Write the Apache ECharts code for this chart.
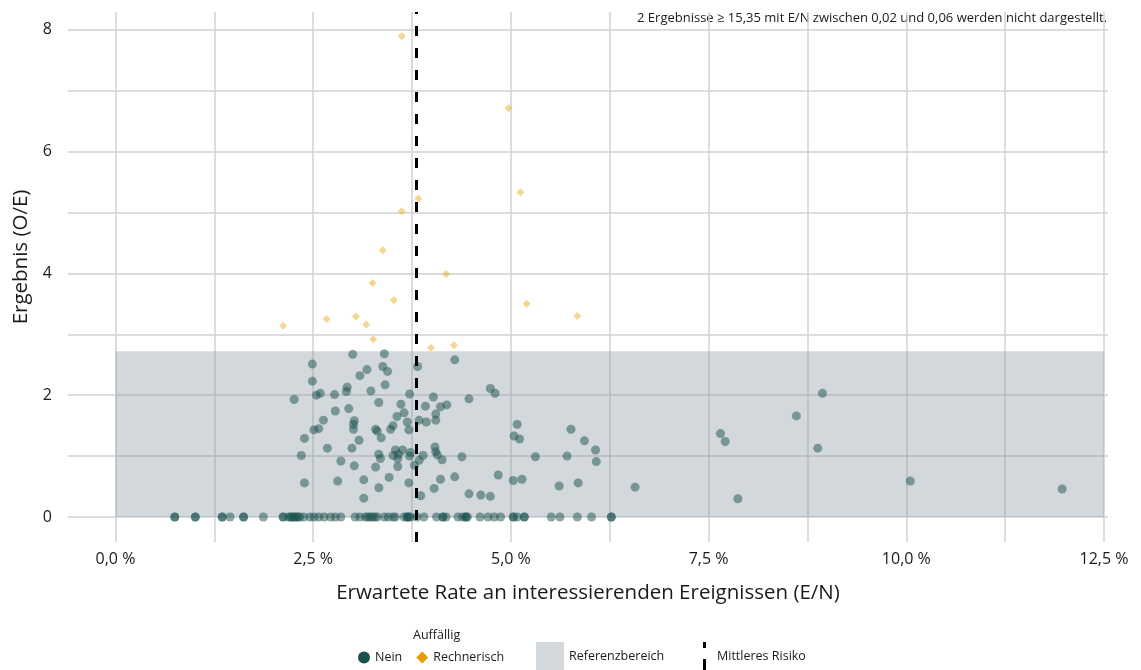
<!DOCTYPE html>
<html>
<head>
<meta charset="utf-8">
<script src="https://cdn.jsdelivr.net/npm/echarts@6/dist/echarts.min.js"></script>
<style>
html,body{margin:0;padding:0;background:#fff;}
#chart{width:1141px;height:670px;}
</style>
</head>
<body>
<div id="chart"></div>
<script>
// ---- data (E/N in percent, O/E) ----
const xTicks = [0, 1.25, 2.5, 3.75, 5, 6.25, 7.5, 8.75, 10, 11.25, 12.5];
const xLabels = [0, 2.5, 5, 7.5, 10, 12.5];
const yTicks = [0, 1, 2, 3, 4, 5, 6, 7, 8];
const yLabels = [0, 2, 4, 6, 8];
const meanRisk = 3.8;
const refX = [0, 12.5];
const refY = [0, 2.72];

const rechnerisch = [
  [3.62,7.89],[4.97,6.71],[5.12,5.33],[3.83,5.23],[3.62,5.02],[3.38,4.38],
  [4.18,3.99],[3.25,3.84],[3.52,3.56],[5.20,3.50],[2.12,3.14],[2.67,3.25],
  [3.04,3.29],[3.17,3.16],[5.84,3.30],[3.26,2.92],[3.99,2.78],[4.28,2.82]
];

const neinPositive = [
  [3.00,2.67],[3.40,2.68],[2.49,2.51],[3.82,2.47],[4.29,2.58],[3.18,2.42],
  [3.38,2.47],[3.44,2.39],[3.09,2.32],[2.49,2.23],[2.93,2.13],[2.92,2.06],
  [3.41,2.17],[3.23,2.07],[2.26,1.93],[2.54,2.00],[2.59,2.03],[2.77,2.01],
  [3.72,2.02],[3.33,1.88],[3.61,1.85],[4.02,1.97],[3.92,1.82],[4.11,1.81],
  [4.19,1.84],[4.47,1.94],[2.78,1.74],[2.95,1.78],[3.65,1.71],[4.05,1.69],
  [3.56,1.65],[2.63,1.59],[3.02,1.58],[3.01,1.52],[3.01,1.44],[3.69,1.56],
  [3.84,1.59],[3.93,1.56],[4.05,1.59],[3.51,1.50],[3.48,1.44],[3.29,1.44],
  [3.31,1.41],[3.71,1.43],[2.51,1.43],[2.57,1.45],[3.36,1.30],[2.39,1.29],
  [3.08,1.26],[2.68,1.13],[2.99,1.13],[3.54,1.10],[3.63,1.10],[4.04,1.15],
  [3.73,1.06],[3.33,1.03],[3.51,1.01],[3.58,1.03],[3.57,0.96],[3.72,1.00],
  [3.89,1.01],[4.05,1.07],[4.07,1.02],[3.35,0.96],[2.35,1.01],[4.13,0.94],
  [4.38,0.99],[3.84,0.93],[2.85,0.92],[3.78,0.85],[3.29,0.82],[3.57,0.83],
  [3.02,0.84],[2.39,0.56],[2.81,0.59],[3.14,0.61],[3.46,0.65],[3.71,0.56],
  [4.11,0.62],[4.29,0.66],[3.33,0.48],[4.03,0.47],[4.47,0.38],[3.14,0.31],
  [3.86,0.35],[4.74,2.11],[4.80,2.03],[4.62,0.36],[4.74,0.34],[4.84,0.69],
  [5.08,1.52],[5.04,1.33],[5.11,1.28],[5.03,0.60],[5.14,0.62],[5.31,0.99],
  [5.61,0.51],[5.76,1.44],[5.93,1.25],[6.07,1.10],[5.71,1.00],[6.08,0.91],
  [5.85,0.56],[6.57,0.49],[7.65,1.37],[7.71,1.24],[7.87,0.30],[8.61,1.66],
  [8.94,2.03],[8.88,1.13],[10.05,0.59],[11.97,0.46]
];

const neinZero = [
  [0.75,0],[0.75,0],[1.01,0],[1.01,0],[1.35,0],[1.35,0],[1.45,0],[1.62,0],
  [1.62,0],[1.87,0],[2.12,0],[2.12,0],[2.19,0],[2.21,0],[2.23,0],[2.25,0],
  [2.27,0],[2.29,0],[2.31,0],[2.33,0],[2.38,0],[2.46,0],[2.51,0],[2.57,0],
  [2.64,0],[2.72,0],[2.78,0],[2.85,0],[3.03,0],[3.09,0],[3.16,0],[3.19,0],
  [3.22,0],[3.25,0],[3.28,0],[3.31,0],[3.40,0],[3.45,0],[3.51,0],[3.54,0],
  [3.65,0],[3.69,0],[3.69,0],[3.71,0],[3.73,0],[3.81,0],[3.90,0],[4.06,0],
  [4.14,0],[4.14,0],[4.18,0],[4.33,0],[4.39,0],[4.43,0],[4.43,0],[4.45,0],
  [4.61,0],[4.71,0],[4.79,0],[4.87,0],[5.03,0],[5.03,0],[5.08,0],[5.17,0],
  [5.17,0],[5.51,0],[5.62,0],[5.84,0],[6.02,0],[6.27,0],[6.27,0]
];

const neinColor = '#1b524f';
const rechColor = '#e69f00';
const textColor = '#1a1a1a';
const font = 'Open Sans';

const chart = echarts.init(document.getElementById('chart'));
chart.setOption({
  animation: false,
  backgroundColor: '#ffffff',
  textStyle: { fontFamily: font, color: textColor },
  grid: { left: 68, right: 33, top: 12, bottom: 128, containLabel: false, outerBoundsMode: 'none' },
  xAxis: {
    type: 'value', min: -0.6, max: 12.55,
    axisLine: { show: false },
    axisTick: { show: false, customValues: xTicks },
    axisLabel: {
      customValues: xLabels, fontSize: 16, color: textColor, margin: 9, fontFamily: font,
      formatter: v => v.toFixed(1).replace('.', ',') + ' %'
    },
    splitLine: { show: true, lineStyle: { color: '#d2d2d2', width: 1.5 } },
    name: 'Erwartete Rate an interessierenden Ereignissen (E/N)',
    nameLocation: 'middle', nameGap: 41,
    nameTextStyle: { fontSize: 20.5, color: textColor, fontFamily: font }
  },
  yAxis: {
    type: 'value', min: -0.41, max: 8.29,
    axisLine: { show: false },
    axisTick: { show: false, customValues: yTicks },
    axisLabel: { customValues: yLabels, fontSize: 16, color: textColor, margin: 16, fontFamily: font },
    splitLine: { show: true, lineStyle: { color: '#d2d2d2', width: 1.5 } },
    name: 'Ergebnis (O/E)', nameLocation: 'middle', nameGap: 36,
    nameTextStyle: { fontSize: 20.5, color: textColor, fontFamily: font, padding: [0, 0, 0, 40] }
  },
  legend: [
    {
      left: 358, top: 651, padding: 0, itemWidth: 12, itemHeight: 12, itemGap: 14,
      textStyle: { fontSize: 12.5, color: textColor, fontFamily: font },
      data: [
        { name: 'Nein', icon: 'circle', itemStyle: { color: neinColor, opacity: 1 } },
        { name: 'Rechnerisch', icon: 'diamond', itemStyle: { color: rechColor, opacity: 1 } }
      ],
      selectedMode: false
    },
    {
      left: 536, top: 642, padding: 0, itemWidth: 28, itemHeight: 28,
      textStyle: { fontSize: 12.5, color: textColor, fontFamily: font },
      data: [{ name: 'Referenzbereich', icon: 'rect', itemStyle: { color: '#d3d8dc', opacity: 1 } }],
      selectedMode: false
    },
    {
      left: 703, top: 642, padding: 0, itemWidth: 3, itemHeight: 28,
      textStyle: { fontSize: 12.5, color: textColor, fontFamily: font, padding: [0, 0, 0, 6] },
      data: [{ name: 'Mittleres Risiko', icon: 'path://M0,0L3,0L3,6L0,6Z M0,17L3,17L3,28L0,28Z', itemStyle: { color: '#000', opacity: 1 } }],
      selectedMode: false
    }
  ],
  graphic: [
    {
      type: 'text', left: 413, top: 629,
      style: { text: 'Auffällig', font: '12.5px "Open Sans"', fill: textColor }
    },
    {
      type: 'text', right: 34, top: 12,
      style: { text: '2 Ergebnisse ≥ 15,35 mit E/N zwischen 0,02 und 0,06 werden nicht dargestellt.', font: '13px "Open Sans"', fill: textColor }
    }
  ],
  series: [
    {
      name: 'Referenzbereich', type: 'scatter', data: [], silent: true, z: 1,
      itemStyle: { color: '#d3d8dc' },
      markArea: {
        silent: true,
        itemStyle: { color: 'rgba(127,142,153,0.35)' },
        data: [[{ coord: [refX[0], refY[0]] }, { coord: [refX[1], refY[1]] }]]
      }
    },
    {
      name: 'Nein', type: 'scatter', symbol: 'circle', symbolSize: 9, z: 3,
      itemStyle: { color: neinColor, opacity: 0.5 },
      data: neinPositive.concat(neinZero)
    },
    {
      name: 'Rechnerisch', type: 'scatter', symbol: 'diamond', symbolSize: 8, z: 3,
      itemStyle: { color: rechColor, opacity: 0.42 },
      data: rechnerisch
    },
    {
      name: 'Mittleres Risiko', type: 'line', data: [], z: 4,
      itemStyle: { color: '#000' }, lineStyle: { color: '#000' },
      markLine: {
        silent: true, symbol: 'none', label: { show: false },
        lineStyle: { color: '#000', width: 3, type: [10, 12] },
        data: [{ xAxis: meanRisk }]
      }
    }
  ]
});
</script>
</body>
</html>
